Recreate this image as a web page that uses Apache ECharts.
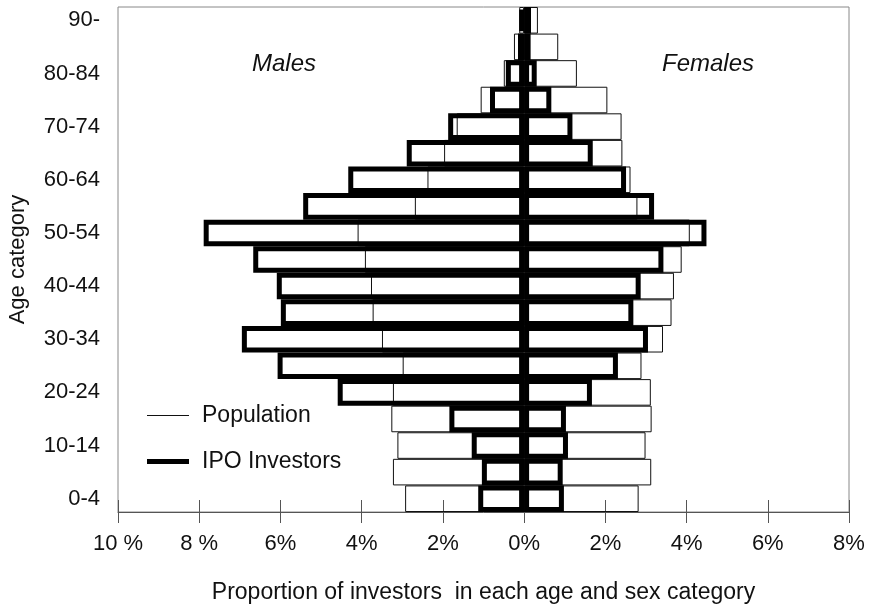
<!DOCTYPE html>
<html>
<head>
<meta charset="utf-8">
<script src="https://cdn.jsdelivr.net/npm/echarts@6/dist/echarts.min.js"></script>
<style>
  html, body { margin: 0; padding: 0; background: #fff; }
  #main { width: 871px; height: 609px; }
</style>
</head>
<body>
<div id="main"></div>
<script>
// age groups, bottom to top
const ageGroups = ['0-4', '5-9', '10-14', '15-19', '20-24', '25-29', '30-34', '35-39', '40-44', '45-49',
  '50-54', '55-59', '60-64', '65-69', '70-74', '75-79', '80-84', '85-89', '90-']

// percent of each group
const malePopulation = [2.93, 3.23, 3.12, 3.27, 3.23, 2.99, 3.50, 3.73, 3.77, 3.92, 4.10, 2.69, 2.38, 1.97, 1.66, 1.07, 0.50, 0.25, 0.12]
const maleIPO = [1.13, 1.04, 1.29, 1.84, 4.59, 6.07, 6.95, 5.99, 6.09, 6.67, 7.89, 5.44, 4.33, 2.89, 1.87, 0.84, 0.45, 0.15, 0.12]
const femalePopulation = [2.82, 3.13, 2.99, 3.14, 3.12, 2.89, 3.42, 3.63, 3.69, 3.88, 4.08, 2.79, 2.62, 2.42, 2.40, 2.05, 1.30, 0.84, 0.34]
const femaleIPO = [0.98, 0.95, 1.08, 1.03, 1.67, 2.31, 3.05, 2.69, 2.87, 3.43, 4.49, 3.20, 2.51, 1.69, 1.19, 0.67, 0.31, 0.16, 0.17]

const xTickLabels = ['10 %', '8 %', '6%', '4%', '2%', '0%', '2%', '4%', '6%', '8%']
const xMin = -10, xMax = 8, xStep = 2

const font = 'Liberation Sans, Arial, sans-serif'
const chart = echarts.init(document.getElementById('main'))

const barBase = {
  type: 'bar',
  barGap: '-100%',
  barCategoryGap: '0%',
  silent: true
}
const thin = { color: 'transparent', borderColor: '#111', borderWidth: 1 }
const thick = { color: 'transparent', borderColor: '#000', borderWidth: 5 }

const option = {
  backgroundColor: '#fff',
  animation: false,
  textStyle: { fontFamily: font },
  grid: {
    left: 118, right: 22, top: 7, bottom: 97,
    containLabel: false, outerBoundsMode: 'none',
    show: true, borderColor: '#888', borderWidth: 1
  },
  legend: [
    {
      left: 142, top: 399, orient: 'vertical',
      itemWidth: 42, itemHeight: 1,
      textStyle: { fontSize: 23, color: '#111', padding: [0, 0, 0, 8] },
      data: [{ name: 'Population', icon: 'rect', itemStyle: { color: '#111', borderWidth: 0 } }]
    },
    {
      left: 142, top: 445, orient: 'vertical',
      itemWidth: 42, itemHeight: 5,
      textStyle: { fontSize: 23, color: '#111', padding: [0, 0, 0, 8] },
      data: [{ name: 'IPO Investors', icon: 'rect', itemStyle: { color: '#000', borderWidth: 0 } }]
    }
  ],
  xAxis: [
    {
      type: 'value', position: 'bottom',
      min: xMin, max: xMax, interval: xStep,
      name: 'Proportion of investors  in each age and sex category',
      nameLocation: 'middle', nameGap: 69,
      nameTextStyle: { fontSize: 23, color: '#111' },
      axisLine: { show: true, lineStyle: { color: '#555', width: 1 } },
      axisTick: { show: true, inside: false, length: 11, lineStyle: { color: '#555' } },
      splitLine: { show: false },
      axisLabel: {
        fontSize: 22, color: '#111', margin: 21,
        formatter: v => xTickLabels[Math.round((v - xMin) / xStep)]
      }
    },
    {
      type: 'value', position: 'bottom',
      min: xMin, max: xMax, interval: xStep,
      axisLine: { show: false },
      axisTick: { show: true, inside: true, length: 12, lineStyle: { color: '#555' } },
      splitLine: { show: false },
      axisLabel: { show: false }
    }
  ],
  yAxis: {
    type: 'category',
    data: ageGroups,
    name: 'Age category',
    nameLocation: 'middle', nameGap: 89,
    nameTextStyle: { fontSize: 22, color: '#111' },
    axisLine: { show: false },
    axisTick: { show: false },
    axisLabel: { interval: 1, fontSize: 22, color: '#111', margin: 18 }
  },
  graphic: [
    { type: 'text', left: 252, top: 52, style: { text: 'Males', fontSize: 24, fontStyle: 'italic', fontFamily: font, fill: '#111' } },
    { type: 'text', left: 662, top: 52, style: { text: 'Females', fontSize: 24, fontStyle: 'italic', fontFamily: font, fill: '#111' } }
  ],
  series: [
    Object.assign({}, barBase, { name: 'Population', data: malePopulation.map(v => -v), itemStyle: thin, z: 2 }),
    Object.assign({}, barBase, { name: 'Population', data: femalePopulation, itemStyle: thin, z: 2 }),
    Object.assign({}, barBase, { name: 'IPO Investors', data: maleIPO.map(v => -v), itemStyle: thick, z: 3 }),
    Object.assign({}, barBase, { name: 'IPO Investors', data: femaleIPO, itemStyle: thick, z: 3 })
  ]
}

chart.setOption(option)
</script>
</body>
</html>
